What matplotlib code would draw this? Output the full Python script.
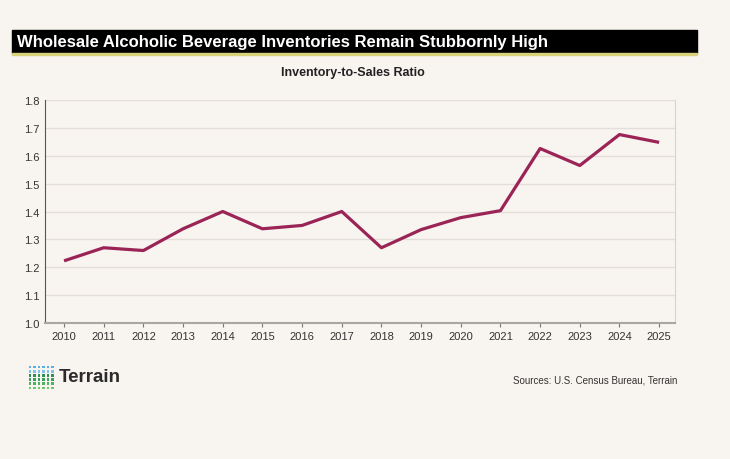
import matplotlib
matplotlib.use('Agg')
import matplotlib.pyplot as plt
from matplotlib.patches import Rectangle

# Dados
anos = [2010, 2011, 2012, 2013, 2014, 2015, 2016, 2017,
        2018, 2019, 2020, 2021, 2022, 2023, 2024, 2025]
razao = [1.223, 1.27, 1.26, 1.338, 1.40, 1.338, 1.35, 1.40,
         1.27, 1.335, 1.378, 1.403, 1.626, 1.565, 1.676, 1.648]
yticks = [1.0, 1.1, 1.2, 1.3, 1.4, 1.5, 1.6, 1.7, 1.8]

bg = '#f8f4f0'
cor_linha = '#9b2457'
plt.rcParams['font.family'] = ['Liberation Sans', 'DejaVu Sans']

fig = plt.figure(figsize=(7.3, 4.6), dpi=100, facecolor=bg)
W, H = 730, 460

# Barra do título
fig.patches.append(Rectangle((12 / W, 1 - 54 / H), 685 / W, 23 / H,
                             transform=fig.transFigure, color='black', zorder=1))
fig.patches.append(Rectangle((12 / W, 1 - 56 / H), 685 / W, 2 / H,
                             transform=fig.transFigure, color='#d8d27a', zorder=1))
fig.text(17 / W, 1 - 43 / H, 'Wholesale Alcoholic Beverage Inventories Remain Stubbornly High',
         color='white', fontsize=12, fontweight='bold', va='center', ha='left')
fig.text(353 / W, 1 - 73 / H, 'Inventory-to-Sales Ratio', color='#222222',
         fontsize=9, fontweight='bold', ha='center', va='center')

# Eixo principal
ax = fig.add_axes([45 / W, 1 - 324 / H, 630 / W, 223 / H])
ax.set_facecolor(bg)
ax.plot(anos, razao, color=cor_linha, linewidth=2.3, solid_capstyle='butt', zorder=3)
ax.set_xlim(2009.52, 2025.4)
ax.set_ylim(1.0, 1.8)
ax.set_yticks(yticks)
ax.set_yticklabels([f'{v:.1f}' for v in yticks])
ax.set_xticks(anos)
ax.grid(axis='y', color='#e4deda', linewidth=1)
ax.set_axisbelow(True)
ax.spines['top'].set_visible(False)
ax.spines['left'].set_color('#555555')
ax.spines['right'].set_color('#d8d2ce')
ax.spines['bottom'].set_color('#aaa6a2')
ax.spines['bottom'].set_linewidth(1.5)
ax.tick_params(axis='x', length=3, color='#777777', labelsize=8, labelcolor='#333333', pad=3)
ax.tick_params(axis='y', length=0, labelsize=8, labelcolor='#333333', pad=4)

# Logo Terrain (grade de pontos)
cores_logo = ['#5aaee6', '#7cc4ee', '#2f8f55', '#3a9e5e', '#4cb35e', '#6cc870']
lx = fig.add_axes([0, 0, 1, 1], facecolor='none')
lx.set_xlim(0, W)
lx.set_ylim(H, 0)
lx.axis('off')
for i, c in enumerate(cores_logo):
    for j in range(6):
        lx.add_patch(Rectangle((28.5 + j * 4.5, 366.5 + i * 4.2), 2.8, 2.8, color=c, lw=0))
fig.text(59 / W, 1 - 378 / H, 'Terrain', fontsize=13.5, fontweight='bold', color='#2b2b2b',
         ha='left', va='center')
fig.text(677 / W, 1 - 381 / H, 'Sources: U.S. Census Bureau, Terrain', fontsize=7,
         color='#333333', ha='right', va='center')

fig.savefig('out.png', dpi=100, facecolor=bg)
plt.close()
